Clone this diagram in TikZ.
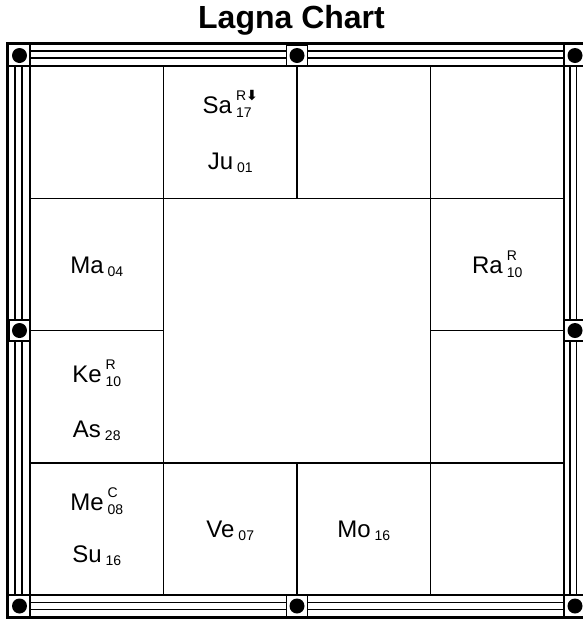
\documentclass[tikz,border=0pt]{standalone}
\usepackage{fontspec}
\setmainfont{Liberation Sans}
\newfontfamily\arrowfont{DejaVu Sans}
\usepackage{tikz}
% planet with upper and lower mark, and with lower mark only
\newcommand{\scr}{\fontsize{14}{17}\selectfont}
\newcommand{\graha}[3]{#1\hspace{4pt}\raisebox{-4.5pt}{\scr\begin{tabular}[b]{@{}l@{}}#2\\#3\end{tabular}}}
\newcommand{\grahasub}[2]{#1\hspace{4pt}\raisebox{-3pt}{\scr #2}}

\begin{document}
\begin{tikzpicture}[x=1pt, y=-1pt,
  planet/.style={anchor=base, font={\fontsize{24}{28}\selectfont}},
  knobbox/.style={draw, fill=white, line width=1.8, minimum size=21, inner sep=0},
  knob/.style={circle, fill, inner sep=0, minimum size=15}]
\useasboundingbox (0,0) rectangle (583,622);
\clip (0,0) rectangle (583,622);
%--- Title ---
\node[anchor=base, font={\bfseries\fontsize{32}{36}\selectfont}] (title) at (291.5,28.5) {Lagna Chart};
%--- Frame ---
\draw[line width=3] (7.5,43.5) rectangle (586.5,617.5);
\draw[line width=1.6] (9,66) -- (585,66) (9,595) -- (585,595)
  (30,45) -- (30,616) (564,45) -- (564,616);
% double rails
\draw[line width=1.5] (30,51) -- (564,51) (30,58) -- (564,58)
  (30,602.5) -- (564,602.5) (30,609.5) -- (564,609.5)
  (15,66) -- (15,595) (22,66) -- (22,595)
  (570,66) -- (570,595) (576.5,66) -- (576.5,595);
% corner knobs
\node[knob] (ktl) at (19.5,55.5) {};
\node[knob] (ktr) at (575,55.5) {};
\node[knob] (kbl) at (19.5,606) {};
\node[knob] (kbr) at (575,606) {};
% middle knobs
\foreach \nm/\px/\py in {kt/297/55.5, kb/297/606, kl/19.5/330.5, kr/575/330.5}{
  \node[knobbox] (\nm box) at (\px,\py) {};
  \node[knob] (\nm) at (\px,\py) {};
}
%--- Houses ---
\draw[line width=1.5] (163.5,66) -- (163.5,595) (430.5,66) -- (430.5,595)
  (30,198.25) -- (564,198.25) (30,462.75) -- (564,462.75)
  (297,66) -- (297,198.25) (297,462.75) -- (297,595)
  (30,330.5) -- (163.5,330.5) (430.5,330.5) -- (564,330.5);
%--- Planets ---
\node[planet] (sa) at (230.25,113) {\graha{Sa}{R{\arrowfont\bfseries ⬇}}{17}};
\node[planet] (ju) at (230.25,169) {\grahasub{Ju}{01}};
\node[planet] (ma) at (96.75,273) {\grahasub{Ma}{04}};
\node[planet] (ra) at (497.25,273) {\graha{Ra}{R}{10}};
\node[planet] (ke) at (96.75,382) {\graha{Ke}{R}{10}};
\node[planet] (as) at (96.75,437) {\grahasub{As}{28}};
\node[planet] (me) at (96.75,510) {\graha{Me}{C}{08}};
\node[planet] (su) at (96.75,562) {\grahasub{Su}{16}};
\node[planet] (ve) at (230.25,537.5) {\grahasub{Ve}{07}};
\node[planet] (mo) at (363.75,537.5) {\grahasub{Mo}{16}};
\end{tikzpicture}
\end{document}
